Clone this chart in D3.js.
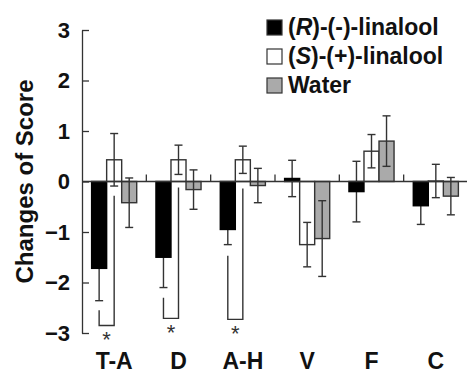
<!DOCTYPE html>
<html>
<head>
<meta charset="utf-8">
<script src="https://cdn.jsdelivr.net/npm/d3@7"></script>
<style>
    body { margin: 0; background: #fff; }
    text { font-family: "Liberation Sans", Arial, sans-serif; font-weight: bold; fill: #111; }
</style>
</head>
<body>
<script>
// data
const categories = ["T-A", "D", "A-H", "V", "F", "C"];
const rMeans = [-1.72, -1.50, -0.95, 0.06, -0.20, -0.48];
const rErr = [0.64, 0.60, 0.30, 0.36, 0.60, 0.37];
const sMeans = [0.43, 0.43, 0.43, -1.25, 0.60, 0.01];
const sErr = [0.52, 0.29, 0.27, 0.44, 0.33, 0.33];
const wMeans = [-0.42, -0.16, -0.08, -1.13, 0.80, -0.29];
const wErr = [0.49, 0.39, 0.34, 0.75, 0.50, 0.37];
const yTicks = [-3, -2, -1, 0, 1, 2, 3];

// significance brackets (R vs S)
const sigCats = ["T-A", "D", "A-H"];
const sigLeftTop = [-2.55, -2.30, -1.47];
const sigRightTop = [-0.28, -0.12, -0.14];
const sigBottom = [-2.85, -2.71, -2.73];

const seriesKeys = ["R", "S", "W"];
const seriesFill = {R: "#000", S: "#fff", W: "#aaa"};

const width = 467, height = 370;
const plot = {left: 82, right: 468, top: 30, bottom: 333};

const svg = d3.select("body").append("svg")
    .attr("width", width)
    .attr("height", height);

const x0 = d3.scaleBand().domain(categories).range([plot.left, plot.right]).padding(0);
const x1 = d3.scaleBand().domain(seriesKeys).range([0, x0.bandwidth()])
    .paddingInner(0).paddingOuter(0.64);
const y = d3.scaleLinear().domain([-3, 3]).range([plot.bottom, plot.top]);

const rows = [];
categories.forEach((c, i) => {
    rows.push({cat: c, key: "R", v: rMeans[i], e: rErr[i]});
    rows.push({cat: c, key: "S", v: sMeans[i], e: sErr[i]});
    rows.push({cat: c, key: "W", v: wMeans[i], e: wErr[i]});
});

// y axis, ticks pointing inward
const yAxis = svg.append("g")
    .attr("transform", `translate(${plot.left},0)`)
    .call(d3.axisLeft(y).tickValues(yTicks).tickFormat(d3.format("d"))
        .tickSizeInner(-7).tickSizeOuter(0).tickPadding(12));
yAxis.select(".domain").attr("stroke", "#333").attr("stroke-width", 1.3);
yAxis.selectAll(".tick line").attr("stroke", "#333").attr("stroke-width", 1.3);
yAxis.selectAll(".tick text")
    .attr("font-size", 22)
    .attr("font-family", "'Liberation Sans', Arial, sans-serif")
    .attr("font-weight", "bold")
    .attr("fill", "#111");

svg.append("text")
    .attr("transform", `translate(33,${(plot.top + plot.bottom) / 2}) rotate(-90)`)
    .attr("text-anchor", "middle")
    .attr("font-size", 24)
    .text("Changes of Score");

// error bars: black series underneath its bars, others on top
const cap = 4;
function errorBars(g, data) {
    data.forEach(d => {
        const cx = x0(d.cat) + x1(d.key) + x1.bandwidth() / 2;
        g.append("line").attr("x1", cx).attr("x2", cx)
            .attr("y1", y(d.v + d.e)).attr("y2", y(d.v - d.e));
        g.append("line").attr("x1", cx - cap).attr("x2", cx + cap)
            .attr("y1", y(d.v + d.e)).attr("y2", y(d.v + d.e));
        g.append("line").attr("x1", cx - cap).attr("x2", cx + cap)
            .attr("y1", y(d.v - d.e)).attr("y2", y(d.v - d.e));
    });
}
errorBars(svg.append("g").attr("stroke", "#333").attr("stroke-width", 1.4),
    rows.filter(d => d.key === "R"));

// bars
svg.append("g").selectAll("rect")
    .data(rows)
    .join("rect")
    .attr("x", d => x0(d.cat) + x1(d.key))
    .attr("width", x1.bandwidth())
    .attr("y", d => y(Math.max(0, d.v)))
    .attr("height", d => Math.abs(y(d.v) - y(0)))
    .attr("fill", d => seriesFill[d.key])
    .attr("stroke", d => d.key === "R" ? "#000" : "#333")
    .attr("stroke-width", 1.4);

errorBars(svg.append("g").attr("stroke", "#333").attr("stroke-width", 1.4),
    rows.filter(d => d.key !== "R"));

// zero line with group separators
const xAxis = svg.append("g").attr("stroke", "#333").attr("stroke-width", 1.3);
xAxis.append("line").attr("x1", plot.left).attr("x2", width)
    .attr("y1", y(0)).attr("y2", y(0));
categories.slice(1).forEach(c => {
    xAxis.append("line").attr("x1", x0(c)).attr("x2", x0(c))
        .attr("y1", y(0)).attr("y2", y(0) - 7);
});

// category labels
svg.append("g").selectAll("text")
    .data(categories)
    .join("text")
    .attr("x", d => x0(d) + x0.bandwidth() / 2)
    .attr("y", 369)
    .attr("text-anchor", "middle")
    .attr("font-size", 23)
    .text(d => d);

// significance brackets
const sig = svg.append("g");
sigCats.forEach((c, i) => {
    const xl = x0(c) + x1("R") + x1.bandwidth() / 2;
    const xr = x0(c) + x1("S") + x1.bandwidth() / 2;
    sig.append("path")
        .attr("d", `M${xl},${y(sigLeftTop[i])}V${y(sigBottom[i])}H${xr}V${y(sigRightTop[i])}`)
        .attr("fill", "none")
        .attr("stroke", "#333")
        .attr("stroke-width", 1.4);
    sig.append("text")
        .attr("x", (xl + xr) / 2)
        .attr("y", y(sigBottom[i]) + 22)
        .attr("text-anchor", "middle")
        .attr("font-size", 22)
        .style("font-weight", "normal")
        .style("fill", "#333")
        .text("*");
});

// legend
const legendItems = [
    {key: "R", pre: "(", it: "R", post: ")-(-)-linalool"},
    {key: "S", pre: "(", it: "S", post: ")-(+)-linalool"},
    {key: "W", pre: "Water", it: "", post: ""}
];
const legend = svg.append("g");
legendItems.forEach((d, i) => {
    const by = 35 + i * 29;
    legend.append("rect")
        .attr("x", 267).attr("y", by - 15)
        .attr("width", 15).attr("height", 15)
        .attr("fill", seriesFill[d.key])
        .attr("stroke", "#333").attr("stroke-width", 1.2);
    const t = legend.append("text")
        .attr("x", 288).attr("y", by)
        .attr("font-size", 23);
    t.append("tspan").text(d.pre);
    if (d.it) t.append("tspan").attr("font-style", "italic").text(d.it);
    if (d.post) t.append("tspan").text(d.post);
});
</script>
</body>
</html>
